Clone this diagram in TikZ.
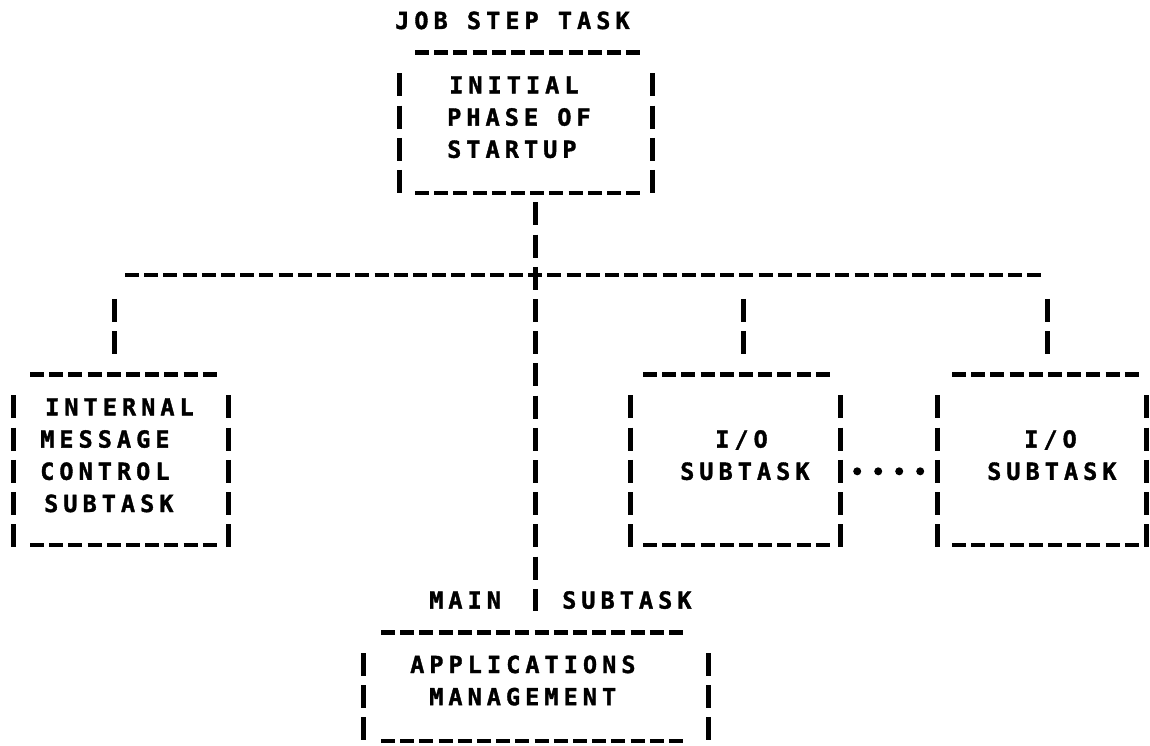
\documentclass[tikz,border=0pt]{standalone}
\usepackage{fontspec}
\newfontfamily\asciifont[LetterSpace=21.5,FakeBold=1.5]{DejaVu Sans Mono Bold}
\begin{document}
\begin{tikzpicture}[x=1pt,y=-1pt,
  lbl/.style={font=\asciifont\fontsize{23.5}{32.2}\selectfont, inner sep=0pt, text height=17pt, text depth=0pt, anchor=west},
  hdash/.style={line width=4.5pt, dash pattern=on 14pt off 5.2pt},
  vbar/.style={line width=5pt, dash pattern=on 23pt off 9.2pt},
  dotrow/.style={line width=8pt, line cap=round, dash pattern=on 0pt off 21pt},
  asciibox/.style={draw=none, inner sep=0pt, rectangle}]
\useasboundingbox[fill=white] (0,0) rectangle (1150,746);

% ---------- box nodes (invisible frames) ----------
\node[asciibox, minimum width=253pt, minimum height=140.3pt] (b1) at (525.5,122.85) {};
\node[asciibox, minimum width=215pt, minimum height=170.3pt] (b2) at (120.5,459.85) {};
\node[asciibox, minimum width=210pt, minimum height=170.3pt] (b3) at (735,459.85) {};
\node[asciibox, minimum width=209pt, minimum height=170.3pt] (b5) at (1041.5,459.85) {};
\node[asciibox, minimum width=345pt, minimum height=108.7pt] (b4) at (535.5,686.65) {};

% ---------- texts ----------
\node[lbl] (title) at (395,20.5) {JOB STEP TASK};
\node[lbl] (t1a) at (449,84.9) {INITIAL};
\node[lbl] (t1b) at (447,117.1) {PHASE OF};
\node[lbl] (t1c) at (447,149.3) {STARTUP};
\node[lbl] (t2a) at (45,406.9) {INTERNAL};
\node[lbl] (t2b) at (40,439.1) {MESSAGE};
\node[lbl] (t2c) at (40,471.3) {CONTROL};
\node[lbl] (t2d) at (44,503.5) {SUBTASK};
\node[lbl] (t3a) at (715,439.1) {I/O};
\node[lbl] (t3b) at (680,471.3) {SUBTASK};
\node[lbl] (t5a) at (1024,439.1) {I/O};
\node[lbl] (t5b) at (987,471.3) {SUBTASK};
\node[lbl] (tmain) at (429,600.1) {MAIN};
\node[lbl] (tsub) at (562,600.1) {SUBTASK};
\node[lbl] (t4a) at (410,664.5) {APPLICATIONS};
\node[lbl] (t4b) at (429,696.7) {MANAGEMENT};

% ---------- box borders ----------
% b1
\draw[hdash] (415,52.7) -- (640,52.7);
\draw[hdash] (415,193) -- (640,193);
\draw[vbar] (399,73.4) -- (399,193);
\draw[vbar] (652,73.4) -- (652,193);
% b2
\draw[hdash] (30,374.7) -- (216.8,374.7);
\draw[hdash] (30,545) -- (216.8,545);
\draw[vbar] (13,395.4) -- (13,547.2);
\draw[vbar] (228,395.4) -- (228,547.2);
% b3
\draw[hdash] (643,374.7) -- (829.8,374.7);
\draw[hdash] (643,545) -- (829.8,545);
\draw[vbar] (630,395.4) -- (630,547.2);
\draw[vbar] (840,395.4) -- (840,547.2);
% b5
\draw[hdash] (952,374.7) -- (1138.8,374.7);
\draw[hdash] (952,545) -- (1138.8,545);
\draw[vbar] (937,395.4) -- (937,547.2);
\draw[vbar] (1146,395.4) -- (1146,547.2);
% b4
\draw[hdash] (381,632.3) -- (683,632.3);
\draw[hdash] (381,741) -- (683,741);
\draw[vbar] (363,653) -- (363,740.4);
\draw[vbar] (708,653) -- (708,740.4);

% ---------- connectors ----------
\coordinate (busL) at (125,275);
\coordinate (busR) at (1041.4,275);
\draw[hdash] (busL) -- (busR);
\draw[vbar] ([yshift=-9.2pt]b1.south -| b4.north) -- ([yshift=20.7pt]b4.north);
\coordinate (d2) at ([xshift=-6pt]b2.north);
\coordinate (d3) at ([xshift=8pt]b3.north);
\coordinate (d5) at ([xshift=6pt]b5.north);
\draw[vbar] ([yshift=-23.8pt]d2 |- busL) -- ([yshift=20.7pt]d2);
\draw[vbar] ([yshift=-23.8pt]d3 |- busL) -- ([yshift=20.7pt]d3);
\draw[vbar] ([yshift=-23.8pt]d5 |- busL) -- ([yshift=20.7pt]d5);
\coordinate (r14) at (0,471.3);
\coordinate (e3) at ([xshift=17pt]b3.east);
\coordinate (w5) at ([xshift=-16pt]b5.west);
\draw[dotrow] (e3 |- r14) -- (w5 |- r14);
\end{tikzpicture}
\end{document}
